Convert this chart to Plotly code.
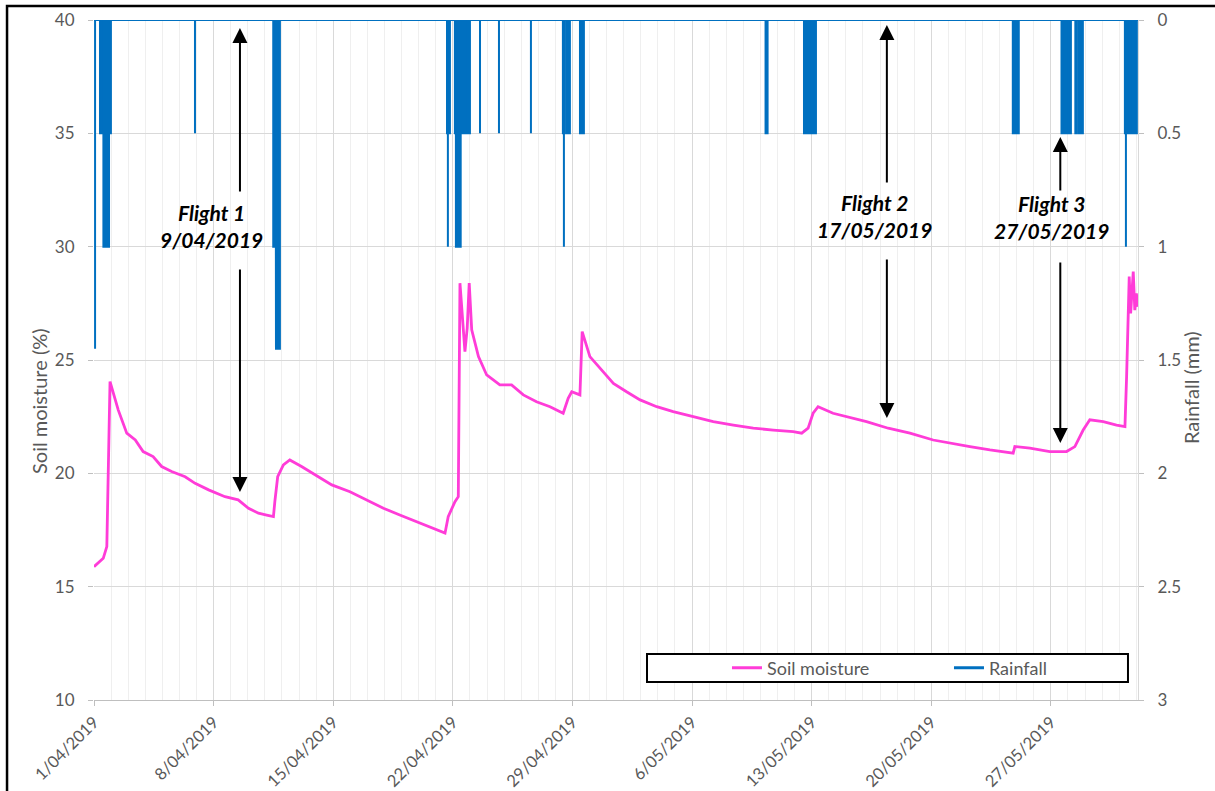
import plotly.graph_objects as go

# ---------------- data ----------------
soil_time = [
    "2019-04-01 00:00", "2019-04-01 13:00", "2019-04-01 18:00", "2019-04-01 22:30",
    "2019-04-02 10:00", "2019-04-02 22:00", "2019-04-03 10:00", "2019-04-03 21:00",
    "2019-04-04 11:00", "2019-04-04 23:00", "2019-04-05 13:00", "2019-04-06 08:00",
    "2019-04-06 22:00", "2019-04-07 17:00", "2019-04-08 16:00", "2019-04-09 10:30",
    "2019-04-10 01:00", "2019-04-10 15:00", "2019-04-11 02:30", "2019-04-11 12:00",
    "2019-04-11 14:00", "2019-04-11 18:00", "2019-04-12 02:00", "2019-04-12 11:00",
    "2019-04-13 03:30", "2019-04-14 03:00", "2019-04-14 22:00", "2019-04-15 23:30",
    "2019-04-16 23:00", "2019-04-17 22:30", "2019-04-18 21:30", "2019-04-19 21:00",
    "2019-04-20 20:30", "2019-04-21 13:00", "2019-04-21 17:30", "2019-04-22 03:00",
    "2019-04-22 07:40", "2019-04-22 10:00", "2019-04-22 17:00", "2019-04-22 20:10",
    "2019-04-22 23:00", "2019-04-23 02:30", "2019-04-23 12:00", "2019-04-23 23:30",
    "2019-04-24 18:00", "2019-04-25 10:30", "2019-04-26 03:00", "2019-04-26 21:30",
    "2019-04-27 16:30", "2019-04-28 11:00", "2019-04-28 18:00", "2019-04-28 23:00",
    "2019-04-29 10:30", "2019-04-29 13:40", "2019-04-30 00:30", "2019-04-30 14:40",
    "2019-05-01 09:30", "2019-05-02 04:00", "2019-05-02 23:00", "2019-05-03 22:20",
    "2019-05-04 21:30", "2019-05-06 01:40", "2019-05-07 05:45", "2019-05-08 10:00",
    "2019-05-09 14:00", "2019-05-10 18:00", "2019-05-11 22:00", "2019-05-12 10:00",
    "2019-05-12 19:00", "2019-05-13 02:00", "2019-05-13 09:00", "2019-05-14 06:00",
    "2019-05-15 10:20", "2019-05-16 05:00", "2019-05-17 11:30", "2019-05-18 18:00",
    "2019-05-20 02:40", "2019-05-21 02:10", "2019-05-22 06:15", "2019-05-23 10:20",
    "2019-05-24 19:00", "2019-05-24 21:20", "2019-05-25 18:30", "2019-05-26 22:30",
    "2019-05-27 22:00", "2019-05-28 09:40", "2019-05-28 21:20", "2019-05-29 06:40",
    "2019-05-30 01:30", "2019-05-30 20:10", "2019-05-31 08:00", "2019-05-31 10:20",
    "2019-05-31 14:00", "2019-05-31 16:00", "2019-05-31 19:40", "2019-05-31 21:50",
    "2019-06-01 00:00", "2019-06-01 02:20",
]
soil_moisture = [
    15.88, 16.25, 16.77, 24.05,
    22.80, 21.77, 21.47, 20.96,
    20.74, 20.30, 20.08, 19.85,
    19.56, 19.27, 18.97, 18.83,
    18.46, 18.24, 18.16, 18.09,
    18.75, 19.85, 20.37, 20.59,
    20.30, 19.85, 19.49, 19.19,
    18.83, 18.46, 18.16, 17.87,
    17.58, 17.36, 18.09, 18.75,
    18.97, 28.39, 25.37, 26.40,
    28.39, 26.33, 25.15, 24.34,
    23.90, 23.90, 23.46, 23.16,
    22.94, 22.65, 23.31, 23.60,
    23.46, 26.25, 25.15, 24.64,
    23.97, 23.60, 23.24, 22.94,
    22.72, 22.50, 22.28, 22.13,
    21.99, 21.91, 21.84, 21.77,
    21.99, 22.65, 22.94, 22.65,
    22.43, 22.28, 21.99, 21.77,
    21.47, 21.33, 21.18, 21.03,
    20.89, 21.18, 21.11, 20.96,
    20.96, 21.18, 21.91, 22.36,
    22.28, 22.13, 22.06, 24.27,
    28.68, 27.06, 28.90, 27.20,
    27.94, 27.35,
]

# rainfall recorded periods (start, end, mm); start == end for single readings
rain_start = [
    "2019-04-01 01:30", "2019-04-01 08:24", "2019-04-01 13:12", "2019-04-01 21:07",
    "2019-04-06 21:50",
    "2019-04-11 11:45", "2019-04-11 15:07", "2019-04-11 15:36",
    "2019-04-21 15:50", "2019-04-21 17:02", "2019-04-21 17:02",
    "2019-04-22 02:53", "2019-04-22 04:19", "2019-04-22 11:02", "2019-04-22 18:14",
    "2019-04-23 14:10", "2019-04-24 16:48", "2019-04-26 13:41",
    "2019-04-28 10:34", "2019-04-28 12:00", "2019-04-28 12:00", "2019-04-28 16:19",
    "2019-04-29 10:34",
    "2019-05-10 07:12",
    "2019-05-12 13:12", "2019-05-12 19:12", "2019-05-13 01:12",
    "2019-05-24 18:29",
    "2019-05-27 14:53", "2019-05-27 21:36", "2019-05-28 10:19", "2019-05-28 15:22",
    "2019-05-31 07:55", "2019-05-31 09:22", "2019-05-31 09:22", "2019-05-31 16:19",
]
rain_end = [
    "2019-04-01 01:30", "2019-04-01 13:12", "2019-04-01 21:07", "2019-04-01 23:45",
    "2019-04-06 21:50",
    "2019-04-11 15:07", "2019-04-11 15:36", "2019-04-11 21:07",
    "2019-04-21 17:02", "2019-04-21 17:02", "2019-04-21 19:55",
    "2019-04-22 04:19", "2019-04-22 11:02", "2019-04-22 16:48", "2019-04-23 00:00",
    "2019-04-23 14:10", "2019-04-24 16:48", "2019-04-26 13:41",
    "2019-04-28 12:00", "2019-04-28 12:00", "2019-04-28 13:26", "2019-04-28 20:24",
    "2019-04-29 16:05",
    "2019-05-10 10:05",
    "2019-05-12 18:00", "2019-05-12 23:31", "2019-05-13 06:00",
    "2019-05-25 02:53",
    "2019-05-27 19:41", "2019-05-28 04:05", "2019-05-28 12:29", "2019-05-28 20:53",
    "2019-05-31 09:22", "2019-05-31 09:22", "2019-05-31 14:53", "2019-06-01 00:43",
]
rain_mm = [
    1.45, 0.5, 1.0, 0.5,
    0.5,
    1.0, 0.5, 1.45,
    0.5, 1.0, 0.5,
    0.5, 1.0, 0.5, 0.5,
    0.5, 0.5, 0.5,
    0.5, 1.0, 0.5, 0.5,
    0.5,
    0.5,
    0.5, 0.5, 0.5,
    0.5,
    0.5, 0.5, 0.5, 0.5,
    0.5, 1.0, 0.5, 0.5,
]

tick_vals = ["2019-04-01", "2019-04-08", "2019-04-15", "2019-04-22", "2019-04-29",
             "2019-05-06", "2019-05-13", "2019-05-20", "2019-05-27"]
tick_text = ["1/04/2019", "8/04/2019", "15/04/2019", "22/04/2019", "29/04/2019",
             "6/05/2019", "13/05/2019", "20/05/2019", "27/05/2019"]

flight_labels = ["Flight 1<br>9/04/2019", "Flight 2<br>17/05/2019", "Flight 3<br>27/05/2019"]
flight_label_x = ["2019-04-07 21:40", "2019-05-16 16:48", "2019-05-27 00:40"]
flight_label_y = [30.93, 31.35, 31.29]
flight_arrow_x = ["2019-04-09 13:00", "2019-05-17 09:36", "2019-05-27 13:12"]
arrow_up_tail = [32.37, 32.77, 32.41]
arrow_up_head = [39.65, 39.78, 34.84]
arrow_down_tail = [29.06, 29.50, 29.37]
arrow_down_head = [19.18, 22.44, 21.34]

x_start = "2019-04-01 00:00"
x_end = "2019-06-01 02:20"

# ---------------- build rainfall line (zero between recorded periods) ----------------
rx = [x_start]
ry = [0]
for s, e, v in zip(rain_start, rain_end, rain_mm):
    rx += [s, s, e, e]
    ry += [0, v, v, 0]
rx.append(x_end)
ry.append(0)

PINK = "#FF3CD8"
BLUE = "#0070C0"
GRAY = "#595959"
FONT = "Lato"

fig = go.Figure()
fig.add_trace(go.Scatter(x=rx, y=ry, yaxis="y2", mode="lines",
                         line=dict(color=BLUE, width=2), fill="tozeroy",
                         fillcolor=BLUE, showlegend=False, hoverinfo="skip"))
fig.add_trace(go.Scatter(x=soil_time, y=soil_moisture, mode="lines",
                         line=dict(color=PINK, width=2.8), name="Soil moisture"))
fig.add_trace(go.Scatter(x=[None], y=[None], mode="lines",
                         line=dict(color=BLUE, width=2.8), name="Rainfall"))

ann = []
for t, lx, ly, ax, ut, uh, dt, dh in zip(flight_labels, flight_label_x, flight_label_y,
                                         flight_arrow_x, arrow_up_tail, arrow_up_head,
                                         arrow_down_tail, arrow_down_head):
    lines = t.split("<br>")
    txt = "<br>".join("<b><i>%s</i></b>" % s for s in lines)
    ann.append(dict(x=lx, y=ly, xref="x", yref="y", text=txt, showarrow=False,
                    font=dict(family=FONT, size=21, color="black"), align="center"))
    for tail, head in ((ut, uh), (dt, dh)):
        ann.append(dict(x=ax, y=head, ax=ax, ay=tail, xref="x", yref="y",
                        axref="x", ayref="y", text="", showarrow=True,
                        arrowhead=2, arrowsize=1.5, arrowwidth=2, arrowcolor="black",
                        standoff=0, startstandoff=0))

# axis titles (placed as rotated text like the original)
ann.append(dict(x=-0.0527, y=0.4397, xref="paper", yref="paper", text="Soil moisture (%)",
                textangle=-90, showarrow=False, font=dict(family=FONT, size=20, color=GRAY),
                xanchor="center", yanchor="middle"))
ann.append(dict(x=1.0508, y=0.4588, xref="paper", yref="paper", text="Rainfall (mm)",
                textangle=-90, showarrow=False, font=dict(family=FONT, size=20, color=GRAY),
                xanchor="center", yanchor="middle"))

fig.update_layout(
    width=1215, height=791,
    margin=dict(l=94, r=77, t=20, b=91, autoexpand=False),
    paper_bgcolor="white", plot_bgcolor="white",
    font=dict(family=FONT, color=GRAY, size=16),
    xaxis=dict(type="date", range=[x_start, x_end], automargin=False,
               tickmode="array", tickvals=tick_vals, ticktext=tick_text,
               tickangle=-45, tickfont=dict(size=16.5, color=GRAY),
               showgrid=True, gridcolor="#D9D9D9", gridwidth=1,
               ticks="outside", ticklen=5, tickcolor="#BFBFBF",
               showline=True, linecolor="#BFBFBF", linewidth=1,
               minor=dict(dtick=86400000, tick0="2019-04-01", showgrid=True,
                          gridcolor="#EFEFEF", gridwidth=1, ticks=""),
               zeroline=False),
    yaxis=dict(range=[10, 40], dtick=5, tick0=10, automargin=False,
               showgrid=True, gridcolor="#D9D9D9", gridwidth=1,
               ticks="outside", ticklen=5, tickcolor="#BFBFBF",
               tickfont=dict(size=17, color=GRAY), ticklabelstandoff=10,
               zeroline=False, showline=False),
    yaxis2=dict(range=[3, 0], dtick=0.5, tick0=0, overlaying="y", side="right",
                automargin=False,
                showgrid=False, ticks="outside", ticklen=5, tickcolor="#BFBFBF",
                tickfont=dict(size=17, color=GRAY), ticklabelstandoff=10,
                showline=True, linecolor="#D9D9D9", linewidth=1,
                zeroline=False),
    showlegend=True,
    legend=dict(orientation="h", x=0.6063, xanchor="left", y=0.047, yanchor="middle",
                bgcolor="rgba(0,0,0,0)", borderwidth=0, entrywidth=177,
                font=dict(size=18, color=GRAY)),
    annotations=ann,
    shapes=[
        dict(type="rect", xref="paper", yref="paper", x0=0.5297, x1=0.9904,
             y0=0.0265, y1=0.0676, line=dict(color="black", width=2),
             fillcolor="white", layer="above"),
        dict(type="rect", xref="paper", yref="paper", x0=-0.0833, x1=1.2,
             y0=-0.3, y1=1.0206, line=dict(color="black", width=2.5),
             fillcolor="rgba(0,0,0,0)", layer="above"),
    ],
)

fig.write_html("out.html", config={"displayModeBar": False},
               post_script="document.body.style.margin='0px';document.body.style.padding='0px';")
